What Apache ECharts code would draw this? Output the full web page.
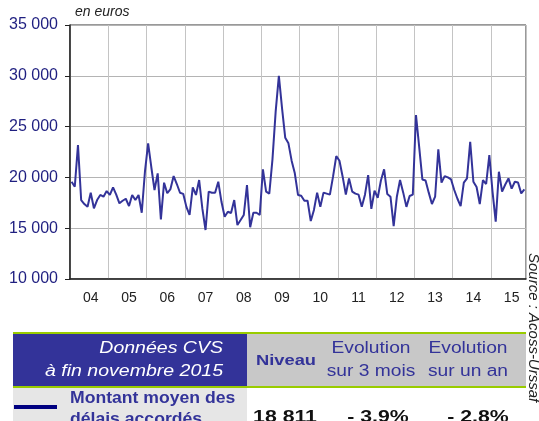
<!DOCTYPE html>
<html>
<head>
<meta charset="utf-8">
<script src="https://cdn.jsdelivr.net/npm/echarts@6/dist/echarts.min.js"></script>
<style>
  html, body { margin: 0; padding: 0; background: #fff; }
  #chart { width: 539px; height: 421px; }
</style>
</head>
<body>
<div id="chart"></div>
<script>
// années affichées sous l'axe
var years = ['04', '05', '06', '07', '08', '09', '10', '11', '12', '13', '14', '15']
// montant moyen des délais accordés, données CVS mensuelles (en euros)
var v04 = [19570, 19080, 23190, 17770, 17380, 17110, 18490, 16960, 17770, 18270, 18100, 18660]
var v05 = [18270, 19020, 18300, 17450, 17700, 17900, 17180, 18270, 17770, 18270, 16520, 20560]
var v06 = [23350, 21000, 18760, 20400, 15870, 19480, 18440, 18850, 20130, 19350, 18490, 18380]
var v07 = [17100, 16300, 19020, 18270, 19740, 16950, 14820, 18600, 18490, 18490, 19570, 17600]
var v08 = [16130, 16620, 16500, 17770, 15310, 15800, 16300, 19250, 15090, 16520, 16520, 16300]
var v09 = [20800, 18600, 18400, 21800, 26500, 30000, 26800, 23900, 23350, 21650, 20400, 18270]
var v10 = [18200, 17700, 17700, 15700, 16800, 18500, 17100, 18500, 18400, 18300, 20100, 22100]
var v11 = [21640, 20070, 18300, 19900, 18600, 18400, 18300, 17100, 18300, 20230, 16900, 18700]
var v12 = [18000, 19700, 20800, 18360, 18100, 15200, 18100, 19740, 18500, 17100, 18170, 18300]
var v13 = [26140, 23000, 19800, 19700, 18500, 17380, 18100, 22760, 19480, 20130, 20000, 19800]
var v14 = [18760, 17900, 17180, 19480, 19900, 23500, 19570, 19050, 17380, 19740, 19350, 22200]
var v15 = [18600, 15640, 20560, 18600, 19300, 19900, 18900, 19570, 19500, 18430, 18811]
var yearValues = [v04, v05, v06, v07, v08, v09, v10, v11, v12, v13, v14, v15]
// tableau sous le graphique
var tableHead = ['Données CVS', 'à fin novembre 2015']
var colHeads = [['Niveau'], ['Evolution', 'sur 3 mois'], ['Evolution', 'sur un an']]
var rowLabel = ['Montant moyen des', 'délais accordés']
var rowValues = ['18 811', '- 3,9%', '- 2,8%']

var months = []
var values = []
yearValues.forEach(function (arr, k) {
  arr.forEach(function (v, m) {
    months.push(years[k] + '-' + (m + 1))
    values.push(v)
  })
})

var blue = '#333399'
var headX = [286, 371, 468]
var valX = [285, 378, 478]

var graphics = [
  { type: 'text', x: 75, y: 12, style: { text: 'en euros', font: 'italic 14px "Liberation Sans", Arial', fill: '#222', textVerticalAlign: 'middle' } },
  { type: 'text', x: 533, y: 253, rotation: -Math.PI / 2, style: { text: 'Source : Acoss-Urssaf', font: 'italic 15px "Liberation Sans", Arial', fill: '#222', textVerticalAlign: 'middle' } },
  { type: 'rect', shape: { x: 13, y: 332, width: 513, height: 2 }, style: { fill: '#99cc00' } },
  { type: 'rect', shape: { x: 13, y: 334, width: 234, height: 52 }, style: { fill: blue } },
  { type: 'rect', shape: { x: 247, y: 334, width: 279, height: 52 }, style: { fill: '#c8c8c8' } },
  { type: 'rect', shape: { x: 13, y: 386, width: 513, height: 2 }, style: { fill: '#99cc00' } },
  { type: 'rect', shape: { x: 13, y: 388, width: 234, height: 40 }, style: { fill: '#e6e6e6' } },
  { type: 'rect', shape: { x: 14, y: 405, width: 43, height: 4 }, style: { fill: '#000080' } }
]
tableHead.forEach(function (t, i) {
  graphics.push({ type: 'text', x: 223, y: 349 + i * 23, scaleX: 1.22, style: { text: t, font: 'italic 16px "Liberation Sans", Arial', fill: '#fff', textAlign: 'right', textVerticalAlign: 'middle' } })
})
colHeads.forEach(function (lines, c) {
  lines.forEach(function (t, i) {
    var single = lines.length === 1
    graphics.push({
      type: 'text',
      x: headX[c],
      y: single ? 361 : 349 + i * 23,
      scaleX: single ? 1.22 : 1.2,
      style: { text: t, font: (single ? 'bold 15px' : '16px') + ' "Liberation Sans", Arial', fill: blue, textAlign: 'center', textVerticalAlign: 'middle' }
    })
  })
})
rowLabel.forEach(function (t, i) {
  graphics.push({ type: 'text', x: 70, y: 399 + i * 21, scaleX: 1.1, style: { text: t, font: 'bold 16px "Liberation Sans", Arial', fill: blue, textVerticalAlign: 'middle' } })
})
rowValues.forEach(function (t, c) {
  graphics.push({ type: 'text', x: valX[c], y: 417, scaleX: 1.25, style: { text: t, font: 'bold 17px "Liberation Sans", Arial', fill: '#111', textAlign: 'center', textVerticalAlign: 'middle' } })
})

var chart = echarts.init(document.getElementById('chart'))
chart.setOption({
  animation: false,
  backgroundColor: '#fff',
  grid: { left: 70, top: 25, right: 13, bottom: 142, show: true, borderColor: '#333', borderWidth: 1 },
  xAxis: {
    type: 'category',
    data: months,
    boundaryGap: true,
    axisLine: { lineStyle: { color: '#222', width: 1.5 } },
    axisTick: { interval: function (i) { return i % 12 === 0 }, length: 5, lineStyle: { color: '#222' } },
    axisLabel: {
      interval: function (i) { return i % 12 === 6 },
      formatter: function (v) { return v.split('-')[0] },
      color: '#222',
      fontSize: 14,
      fontFamily: '"Liberation Sans", Arial',
      margin: 12
    },
    splitLine: { show: true, interval: function (i) { return i % 12 === 0 }, lineStyle: { color: '#c4c4c4' } }
  },
  yAxis: {
    type: 'value',
    min: 10000,
    max: 35000,
    interval: 5000,
    axisLine: { show: true, lineStyle: { color: '#222', width: 1.5 } },
    axisTick: { show: true, length: 5, lineStyle: { color: '#222' } },
    axisLabel: {
      formatter: function (v) { return (v / 1000) + ' 000' },
      color: '#1f1f80',
      fontSize: 16,
      fontFamily: '"Liberation Sans", Arial',
      margin: 12
    },
    splitLine: { lineStyle: { color: '#b4b4b4' } }
  },
  series: [{
    type: 'line',
    data: values,
    showSymbol: false,
    lineStyle: { color: blue, width: 2 }
  }],
  graphic: graphics
})
</script>
</body>
</html>
